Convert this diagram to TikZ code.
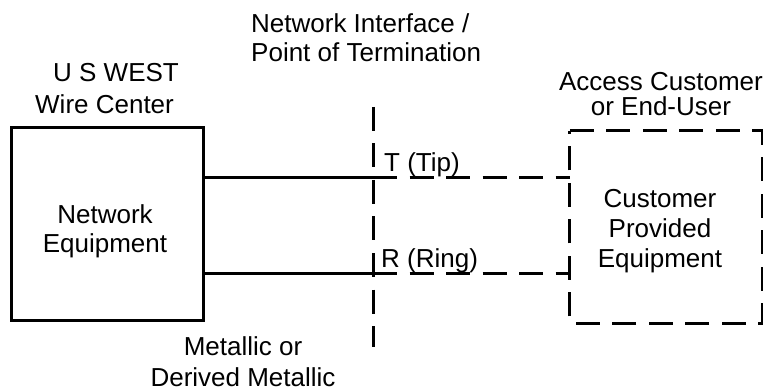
\documentclass[tikz,border=0pt]{standalone}
\usepackage{fontspec}
\setmainfont{Liberation Sans}
\begin{document}
\begin{tikzpicture}[x=1pt,y=-1pt,
  wire/.style={line width=3pt, line cap=butt},
  dashwire/.style={line width=3pt, dash pattern=on 24pt off 12.5pt},
  lbl/.style={inner sep=0pt, font=\fontsize{26}{30}\selectfont},
  solidbox/.style={draw, line width=3pt, minimum width=192pt, minimum height=192pt, inner sep=0pt},
  ghostbox/.style={minimum width=192pt, minimum height=192pt, inner sep=0pt}]
\useasboundingbox (0,0) rectangle (763,390);
% boxes
\node[solidbox] (neq) at (107,224) {};
\node[ghostbox] (cpe) at (666,227) {};
\draw[dashwire] (cpe.north west) -- (cpe.north east) -- (cpe.south east) -- (cpe.south west) -- cycle;
% network interface line
\coordinate (nitop) at (373,107);
\coordinate (nibot) at (373,347);
\draw[dashwire] (nitop) -- (nibot);
% tip and ring
\coordinate (tx) at (373,178);
\coordinate (rx) at (373,273);
\draw[wire] (neq.east |- tx) -- (tx);
\draw[dashwire] (tx) -- (cpe.west |- tx);
\draw[wire] (neq.east |- rx) -- (rx);
\draw[dashwire] (rx) -- (cpe.west |- rx);
% labels
\node[lbl, anchor=north west, align=left, font=\fontsize{26}{29}\selectfont] (ni) at (251,13) {Network Interface /\\Point of Termination};
\node[lbl, anchor=north west, align=left, font=\fontsize{26}{32}\selectfont] (usw) at (35,63) {\hspace*{18pt}U S WEST\\Wire Center};
\node[lbl, anchor=north, align=center, font=\fontsize{26}{29}\selectfont] (neqt) at (105,204) {Network\\Equipment};
\node[lbl, anchor=north, align=center, font=\fontsize{26}{25}\selectfont] (ace) at (661,72) {Access Customer\\or End-User};
\node[lbl, anchor=north, align=center, font=\fontsize{26}{30}\selectfont] (cpet) at (660,189) {Customer\\Provided\\Equipment};
\node[lbl, anchor=north, align=center, font=\fontsize{26}{31}\selectfont] (met) at (243,336) {Metallic or\\Derived Metallic};
\node[lbl, anchor=base west] (tip) at (384,172) {T (Tip)};
\node[lbl, anchor=base west] (ring) at (381,267) {R (Ring)};
\end{tikzpicture}
\end{document}
